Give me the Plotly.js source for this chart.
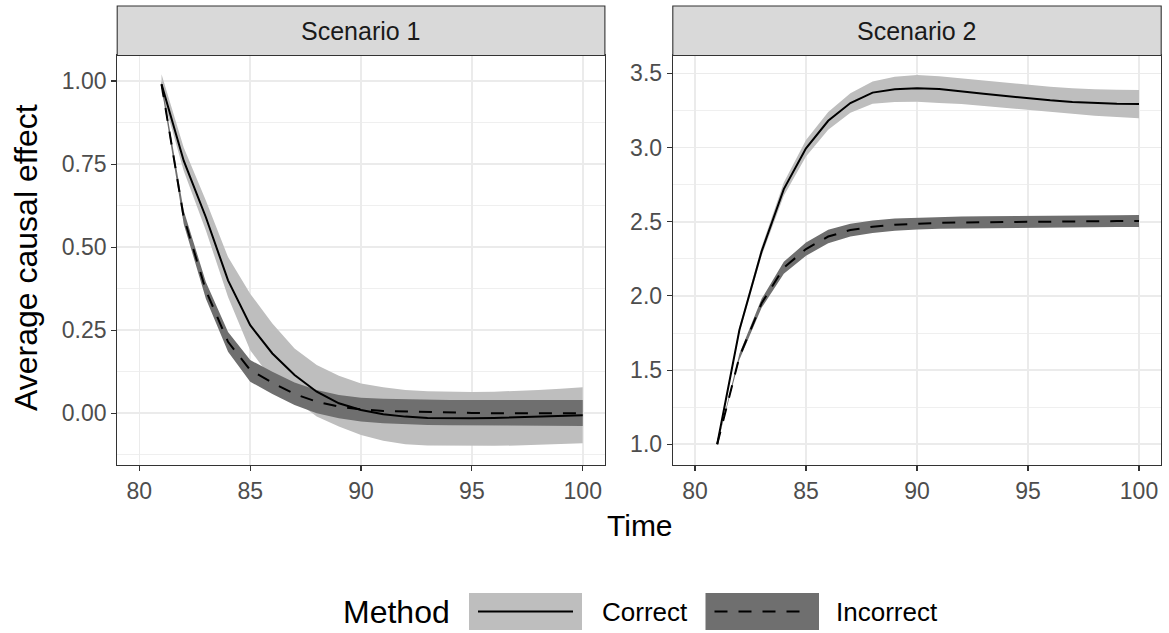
<!DOCTYPE html>
<html><head><meta charset="utf-8">
<script src="https://cdn.plot.ly/plotly-3.0.1.min.js"></script>
<style>html,body{margin:0;padding:0;background:#fff}</style>
</head><body><div id="chart" style="width:1169px;height:633px"></div>
<script>
// ---- data ----
const time = [81,82,83,84,85,86,87,88,89,90,91,92,93,94,95,96,97,98,99,100];
const panels = ["Scenario 1", "Scenario 2"];
const methods = ["Correct", "Incorrect"];

// Scenario 1
const s1CorrectMean  = [0.99,0.76,0.59,0.40,0.265,0.18,0.115,0.065,0.03,0.01,-0.003,-0.01,-0.014,-0.015,-0.015,-0.014,-0.012,-0.01,-0.008,-0.006];
const s1CorrectUpper = [1.02,0.80,0.64,0.47,0.36,0.27,0.195,0.145,0.113,0.09,0.078,0.07,0.066,0.064,0.064,0.065,0.067,0.07,0.074,0.078];
const s1CorrectLower = [0.965,0.73,0.55,0.35,0.19,0.10,0.04,-0.01,-0.04,-0.065,-0.083,-0.093,-0.097,-0.098,-0.098,-0.098,-0.097,-0.095,-0.093,-0.09];
const s1IncorrectMean  = [0.99,0.59,0.37,0.215,0.13,0.092,0.058,0.035,0.02,0.012,0.007,0.005,0.003,0.002,0.001,0.0,0.0,0.0,0.0,0.0];
const s1IncorrectUpper = [1.0,0.61,0.395,0.245,0.16,0.125,0.093,0.07,0.055,0.047,0.044,0.042,0.041,0.04,0.04,0.04,0.04,0.04,0.04,0.04];
const s1IncorrectLower = [0.98,0.57,0.345,0.185,0.095,0.058,0.025,0.0,-0.015,-0.025,-0.03,-0.033,-0.035,-0.036,-0.037,-0.037,-0.038,-0.038,-0.038,-0.038];

// Scenario 2
const s2CorrectMean  = [1.0,1.77,2.30,2.72,2.995,3.18,3.30,3.37,3.392,3.40,3.394,3.381,3.363,3.347,3.331,3.318,3.307,3.30,3.295,3.293];
const s2CorrectUpper = [1.0,1.79,2.33,2.765,3.05,3.24,3.365,3.445,3.477,3.488,3.48,3.466,3.45,3.435,3.421,3.41,3.40,3.392,3.39,3.388];
const s2CorrectLower = [1.0,1.75,2.27,2.675,2.94,3.12,3.235,3.295,3.307,3.309,3.30,3.293,3.278,3.265,3.253,3.24,3.227,3.214,3.205,3.197];
const s2IncorrectMean  = [1.0,1.59,1.95,2.19,2.316,2.40,2.444,2.466,2.48,2.487,2.492,2.495,2.497,2.499,2.50,2.501,2.502,2.503,2.504,2.505];
const s2IncorrectUpper = [1.0,1.61,1.98,2.23,2.36,2.445,2.487,2.508,2.521,2.527,2.532,2.535,2.537,2.539,2.54,2.541,2.542,2.543,2.544,2.545];
const s2IncorrectLower = [1.0,1.57,1.92,2.15,2.27,2.355,2.401,2.424,2.439,2.447,2.452,2.455,2.457,2.459,2.46,2.461,2.462,2.463,2.464,2.465];

const xTicks = [80,85,90,95,100];
const y1Ticks = [0.00,0.25,0.50,0.75,1.00];
const y2Ticks = [1.0,1.5,2.0,2.5,3.0,3.5];

// ---- styling ----
const W = 1169, H = 633;
const px = v => v / W, py = v => 1 - v / H;
const FONT = "Liberation Sans, Arial, sans-serif";
const lightFill = "#BEBEBE", darkFill = "#6F6F6F";
const dashPat = "13px,11px";

function ribbon(x, lo, hi, color, xa, ya) {
  return {x: x.concat(x.slice().reverse()), y: hi.concat(lo.slice().reverse()),
    type: "scatter", mode: "lines", fill: "toself", fillcolor: color,
    line: {width: 0, color: color}, hoverinfo: "skip", showlegend: false, xaxis: xa, yaxis: ya};
}
function line(x, y, dash, xa, ya) {
  return {x: x, y: y, type: "scatter", mode: "lines",
    line: {color: "#000000", width: 2, dash: dash}, showlegend: false, xaxis: xa, yaxis: ya};
}

const data = [
  ribbon(time, s1CorrectLower, s1CorrectUpper, lightFill, "x", "y"),
  ribbon(time, s1IncorrectLower, s1IncorrectUpper, darkFill, "x", "y"),
  line(time, s1CorrectMean, "solid", "x", "y"),
  line(time, s1IncorrectMean, dashPat, "x", "y"),
  ribbon(time, s2CorrectLower, s2CorrectUpper, lightFill, "x2", "y2"),
  ribbon(time, s2IncorrectLower, s2IncorrectUpper, darkFill, "x2", "y2"),
  line(time, s2CorrectMean, "solid", "x2", "y2"),
  line(time, s2IncorrectMean, dashPat, "x2", "y2")
];

const P1 = [117.2, 604.9], P2 = [672.8, 1161.2];
const PT = 55.5, PB = 465, ST = 6;

const gridC = "#EBEBEB";
function xAxis(dom, anchor) {
  return {domain: [px(dom[0]), px(dom[1])], anchor: anchor, range: [79, 101],
    tickvals: xTicks, ticktext: xTicks.map(String), ticks: "outside", ticklen: 5, tickwidth: 1.1, tickcolor: "#333333",
    showgrid: true, gridcolor: gridC, gridwidth: 1.6, zeroline: false,
    showline: true, mirror: true, linecolor: "#333333", linewidth: 1.1,
    tickfont: {family: FONT, size: 23, color: "#4D4D4D"}, fixedrange: true};
}
function yAxis(range, ticks, fmt, minorStep, anchor) {
  return {domain: [py(PB), py(PT)], anchor: anchor, range: range,
    tickvals: ticks, ticktext: ticks.map(v => v.toFixed(fmt)), ticks: "outside", ticklen: 5, tickwidth: 1.1, tickcolor: "#333333",
    showgrid: true, gridcolor: gridC, gridwidth: 1.6, zeroline: false,
    minor: {dtick: minorStep, tick0: 0, showgrid: true, gridcolor: gridC, gridwidth: 0.8, ticks: ""},
    showline: true, mirror: true, linecolor: "#333333", linewidth: 1.1,
    tickfont: {family: FONT, size: 23, color: "#4D4D4D"}, fixedrange: true};
}

// legend geometry
const legY0 = 593, legY1 = 630, legMid = 611.5;
const key1 = [469, 582], key2 = [705.5, 819];

const shapes = [
  // strips
  {type: "rect", xref: "paper", yref: "paper", x0: px(P1[0]), x1: px(P1[1]), y0: py(PT), y1: py(ST),
   fillcolor: "#D9D9D9", line: {color: "#333333", width: 1.1}, layer: "above"},
  {type: "rect", xref: "paper", yref: "paper", x0: px(P2[0]), x1: px(P2[1]), y0: py(PT), y1: py(ST),
   fillcolor: "#D9D9D9", line: {color: "#333333", width: 1.1}, layer: "above"},
  // legend keys
  {type: "rect", xref: "paper", yref: "paper", x0: px(key1[0]), x1: px(key1[1]), y0: py(legY1), y1: py(legY0),
   fillcolor: lightFill, line: {width: 0}},
  {type: "line", xref: "paper", yref: "paper", x0: px(key1[0] + 9), x1: px(key1[1] - 9), y0: py(legMid), y1: py(legMid),
   line: {color: "#000", width: 2}},
  {type: "rect", xref: "paper", yref: "paper", x0: px(key2[0]), x1: px(key2[1]), y0: py(legY1), y1: py(legY0),
   fillcolor: darkFill, line: {width: 0}},
  {type: "line", xref: "paper", yref: "paper", x0: px(key2[0] + 9), x1: px(key2[1] - 9), y0: py(legMid), y1: py(legMid),
   line: {color: "#000", width: 2, dash: dashPat}}
];

const annotations = [
  {text: panels[0], xref: "paper", yref: "paper", x: px((P1[0] + P1[1]) / 2), y: py((PT + ST) / 2),
   showarrow: false, font: {family: FONT, size: 25, color: "#1A1A1A"}, xanchor: "center", yanchor: "middle"},
  {text: panels[1], xref: "paper", yref: "paper", x: px((P2[0] + P2[1]) / 2), y: py((PT + ST) / 2),
   showarrow: false, font: {family: FONT, size: 25, color: "#1A1A1A"}, xanchor: "center", yanchor: "middle"},
  {text: "Time", xref: "paper", yref: "paper", x: px(639.5), y: py(525), showarrow: false,
   font: {family: FONT, size: 30, color: "#000"}, xanchor: "center", yanchor: "middle"},
  {text: "Average causal effect", xref: "paper", yref: "paper", x: px(26), y: py(258), showarrow: false, textangle: -90,
   font: {family: FONT, size: 32, color: "#000"}, xanchor: "center", yanchor: "middle"},
  {text: "Method", xref: "paper", yref: "paper", x: px(341), y: py(legMid), showarrow: false,
   font: {family: FONT, size: 32, color: "#000"}, xanchor: "left", yanchor: "middle"},
  {text: methods[0], xref: "paper", yref: "paper", x: px(600), y: py(legMid), showarrow: false,
   font: {family: FONT, size: 26, color: "#000"}, xanchor: "left", yanchor: "middle"},
  {text: methods[1], xref: "paper", yref: "paper", x: px(834), y: py(legMid), showarrow: false,
   font: {family: FONT, size: 26, color: "#000"}, xanchor: "left", yanchor: "middle"}
];

const layout = {
  width: W, height: H, margin: {l: 0, r: 0, t: 0, b: 0},
  paper_bgcolor: "#FFFFFF", plot_bgcolor: "#FFFFFF", showlegend: false,
  xaxis: xAxis(P1, "y"), yaxis: yAxis([-0.1556, 1.0767], y1Ticks, 2, 0.125, "x"),
  xaxis2: xAxis(P2, "y2"), yaxis2: yAxis([0.8605, 3.62], y2Ticks, 1, 0.25, "x2"),
  shapes: shapes, annotations: annotations
};

Plotly.newPlot("chart", data, layout, {displayModeBar: false, staticPlot: true});
</script>
</body></html>
